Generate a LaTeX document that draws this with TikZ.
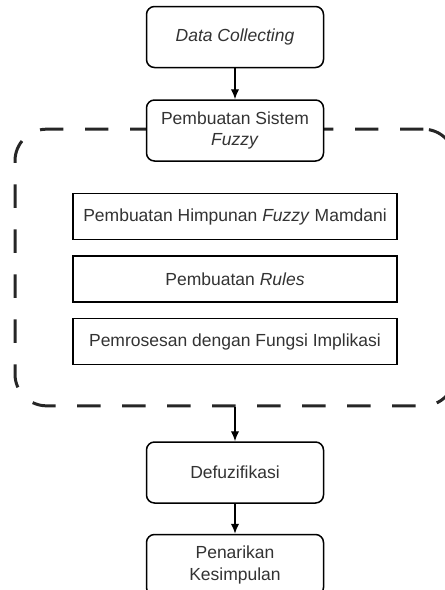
\documentclass[tikz,border=0pt]{standalone}
\usepackage{fontspec}
\setmainfont{Liberation Sans}
\usetikzlibrary{arrows.meta,positioning}

\begin{document}
\begin{tikzpicture}[
  node distance=18.6pt,
  proc/.style={rectangle, rounded corners=4.8pt, draw, line width=0.9pt, fill=white, text=black!80, align=center, minimum width=106.2pt, minimum height=36.6pt, font=\fontsize{10.5}{12.8}\selectfont, inner sep=2pt},
  sub/.style={rectangle, draw, line width=0.9pt, fill=white, text=black!80, minimum width=194.4pt, minimum height=27.6pt, font=\fontsize{10.5}{12.8}\selectfont, inner sep=2pt},
  fuzzyarea/.style={rectangle, draw=black!85, line width=1.8pt, dash pattern=on 14pt off 13pt, rounded corners=19pt, minimum width=264pt, minimum height=166pt, inner sep=0pt},
  arr/.style={-{Latex[length=6pt,width=5pt]}, line width=0.8pt}
]
\clip (0,0) rectangle (267pt,-354pt);
\node[fuzzyarea] (fz) at (141pt,-160.5pt) {};
\node[proc] (a) at (141pt,-22.2pt) {\textit{Data Collecting}};
\node[proc, below=of a] (b) {Pembuatan Sistem\\\textit{Fuzzy}};
\node[sub, below=of b] (s1) {Pembuatan Himpunan \textit{Fuzzy} Mamdani};
\node[sub, below=9pt of s1] (s2) {Pembuatan \textit{Rules}};
\node[sub, below=9pt of s2] (s3) {Pemrosesan dengan Fungsi Implikasi};
\node[proc, below=45.6pt of s3] (c) {Defuzifikasi};
\node[proc, below=18pt of c] (d) {Penarikan\\Kesimpulan};
\draw[arr] (a) -- (b);
\draw[arr] (fz.south -| c.north) -- (c);
\draw[arr] (c) -- (d);
\end{tikzpicture}
\end{document}
